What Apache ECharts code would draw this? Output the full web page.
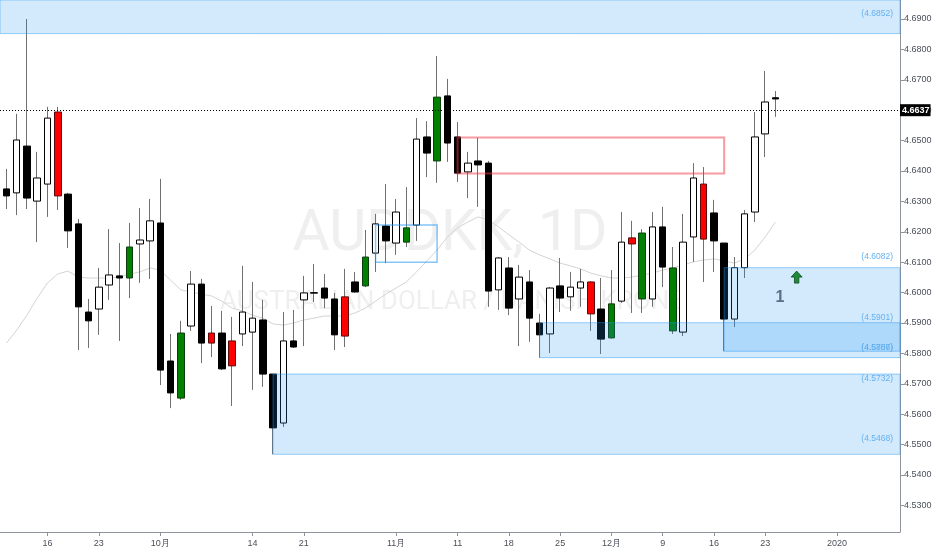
<!DOCTYPE html>
<html>
<head>
<meta charset="utf-8">
<script src="https://cdn.jsdelivr.net/npm/echarts@6/dist/echarts.min.js"></script>
<style>html,body{margin:0;padding:0;background:#fff}#c{width:932px;height:550px}</style>
</head>
<body>
<div id="c"></div>
<script>
// ---------- data ----------
const dates = [
 '2019-09-10','2019-09-11','2019-09-12','2019-09-13','2019-09-16','2019-09-17','2019-09-18','2019-09-19','2019-09-20',
 '2019-09-23','2019-09-24','2019-09-25','2019-09-26','2019-09-27','2019-09-30',
 '2019-10-01','2019-10-02','2019-10-03','2019-10-04','2019-10-07','2019-10-08','2019-10-09','2019-10-10','2019-10-11',
 '2019-10-14','2019-10-15','2019-10-16','2019-10-17','2019-10-18','2019-10-21','2019-10-22','2019-10-23','2019-10-24','2019-10-25',
 '2019-10-28','2019-10-29','2019-10-30','2019-10-31',
 '2019-11-01','2019-11-04','2019-11-05','2019-11-06','2019-11-07','2019-11-08','2019-11-11','2019-11-12','2019-11-13','2019-11-14','2019-11-15',
 '2019-11-18','2019-11-19','2019-11-20','2019-11-21','2019-11-22','2019-11-25','2019-11-26','2019-11-27','2019-11-28','2019-11-29',
 '2019-12-02','2019-12-03','2019-12-04','2019-12-05','2019-12-06','2019-12-09','2019-12-10','2019-12-11','2019-12-12','2019-12-13',
 '2019-12-16','2019-12-17','2019-12-18','2019-12-19','2019-12-20','2019-12-23','2019-12-24'
];
const opens = [4.6341,4.6328,4.6482,4.6301,4.6357,4.6594,4.6324,4.6226,4.5936,4.5946,4.6025,4.6055,4.6048,4.6160,4.6170,
 4.6229,4.5775,4.5653,4.5890,4.6028,4.5834,4.5867,4.5759,4.5864,4.5870,4.5910,4.5732,4.5571,4.5841,4.5976,4.5998,4.6015,4.5979,4.5857,4.6035,4.6022,4.6130,4.6219,
 4.6163,4.6166,4.6222,4.6512,4.6433,4.6647,4.6512,4.6397,4.6433,4.6426,4.6009,4.6081,4.5979,4.6035,4.5900,4.5864,4.6022,4.5986,4.6015,4.6035,4.5946,
 4.5851,4.5972,4.6160,4.6196,4.5979,4.6216,4.6081,4.5870,4.6183,4.6357,4.6262,4.6163,4.5913,4.6082,4.6265,4.6522,4.6641];
const closes = [4.6318,4.6502,4.6311,4.6377,4.6574,4.6318,4.6203,4.5953,4.5907,4.6018,4.6058,4.6048,4.6150,4.6173,4.6236,
 4.5745,4.5670,4.5867,4.6028,4.5834,4.5867,4.5749,4.5841,4.5936,4.5916,4.5732,4.5555,4.5841,4.5821,4.5999,4.6000,4.5982,4.5861,4.5986,4.6002,4.6117,4.6226,4.6170,
 4.6265,4.6213,4.6505,4.6459,4.6643,4.6492,4.6393,4.6426,4.6420,4.6005,4.6114,4.5949,4.6051,4.5916,4.5861,4.6015,4.5982,4.6018,4.6035,4.5930,4.5847,
 4.5963,4.6166,4.6180,4.5979,4.6216,4.6084,4.5874,4.6166,4.6377,4.6176,4.6170,4.5913,4.6082,4.6259,4.6512,4.6627,4.6637];
const lows = [4.6275,4.6255,4.6275,4.6166,4.6249,4.6272,4.6147,4.5811,4.5818,4.5861,4.5976,4.5841,4.5982,4.6032,4.6045,
 4.5696,4.5620,4.5647,4.5874,4.5768,4.5788,4.5745,4.5627,4.5824,4.5680,4.5690,4.5468,4.5558,4.5818,4.5824,4.5969,4.5949,4.5811,4.5821,4.6000,4.6018,4.6068,4.6097,
 4.6124,4.6150,4.6170,4.6380,4.6361,4.6430,4.6364,4.6311,4.6282,4.5953,4.5943,4.5926,4.5824,4.5838,4.5786,4.5801,4.5936,4.5940,4.5953,4.5874,4.5798,
 4.5849,4.5966,4.5933,4.5933,4.5953,4.6018,4.5864,4.5857,4.6101,4.6035,4.6068,4.5807,4.5887,4.6048,4.6232,4.6446,4.6578];
const highs = [4.6407,4.6588,4.6900,4.6463,4.6611,4.6611,4.6328,4.6242,4.5979,4.6081,4.6209,4.6163,4.6229,4.6278,4.6308,
 4.6374,4.5864,4.5907,4.6071,4.6045,4.5956,4.5940,4.5920,4.6088,4.6035,4.5976,4.5732,4.5936,4.5943,4.6055,4.6094,4.6061,4.5999,4.6078,4.6068,4.6206,4.6259,4.6357,
 4.6308,4.6347,4.6574,4.6564,4.6778,4.6703,4.6561,4.6463,4.6509,4.6433,4.6117,4.6117,4.6091,4.6074,4.5930,4.6018,4.6114,4.6068,4.6078,4.6038,4.6048,
 4.6074,4.6265,4.6236,4.6209,4.6265,4.6282,4.6150,4.6259,4.6426,4.6413,4.6305,4.6163,4.6117,4.6272,4.6594,4.6729,4.6663];
// highlighted bars (coloured red / green in the reference)
const redBars = ['2019-09-17','2019-10-08','2019-10-10','2019-10-25','2019-11-28','2019-12-04','2019-12-13'];
const greenBars = ['2019-09-26','2019-10-03','2019-10-29','2019-11-04','2019-11-07','2019-12-02','2019-12-05','2019-12-10'];
// moving average (thin grey line), one value per bar
const maValues = [4.5834,4.5877,4.5926,4.5982,4.6032,4.6061,4.6071,4.6051,4.6048,4.6048,4.6048,4.6051,4.6061,4.6068,4.6081,
 4.6074,4.6041,4.6009,4.6002,4.5995,4.5989,4.5972,4.5949,4.5940,4.5926,4.5916,4.5897,4.5893,4.5900,4.5910,4.5916,4.5923,4.5923,4.5923,4.5933,4.5949,4.5972,4.5995,
 4.6015,4.6035,4.6068,4.6104,4.6140,4.6183,4.6213,4.6232,4.6249,4.6239,4.6216,4.6190,4.6166,4.6140,4.6124,4.6111,4.6097,4.6088,4.6078,4.6064,4.6055,
 4.6048,4.6048,4.6051,4.6058,4.6064,4.6074,4.6081,4.6091,4.6101,4.6107,4.6111,4.6104,4.6097,4.6111,4.6140,4.6183,4.6232];
// x-axis tick labels
const xTickDates = ['2019-09-16','2019-09-23','2019-10-01','2019-10-14','2019-10-21','2019-11-01','2019-11-11','2019-11-18','2019-11-25','2019-12-02','2019-12-09','2019-12-16','2019-12-23','2020-01-01'];
const xTickLabels = ['16','23','10月','14','21','11月','11','18','25','12月','9','16','23','2020'];
// y-axis tick values
const yTicks = [4.53,4.54,4.55,4.56,4.57,4.58,4.59,4.60,4.61,4.62,4.63,4.64,4.65,4.66,4.67,4.68,4.69];
// drawn zones: [start date, bottom price, top price]
const zoneTop = 4.6852;
const zoneC = ['2019-10-16', 4.5468, 4.5732];
const zoneA = ['2019-11-21', 4.5786, 4.5901];
const zoneB = ['2019-12-17', 4.5807, 4.6082];
const redBox = ['2019-11-11', '2019-12-17', 4.6392, 4.6510];
const blueBox = ['2019-10-30', '2019-11-07', 4.6100, 4.6222];
const zoneLabels = [4.6852, 4.6082, 4.5901, 4.5807, 4.5786, 4.5732, 4.5468];

// ---------- helpers ----------
function tradingIndex(d) {
  const t = new Date(dates[0] + 'T00:00:00Z');
  const end = new Date(d + 'T00:00:00Z');
  let i = 0;
  while (t < end) {
    t.setUTCDate(t.getUTCDate() + 1);
    const wd = t.getUTCDay();
    if (wd !== 0 && wd !== 6) i++;
  }
  return i;
}
const xTickIdx = xTickDates.map(tradingIndex);
const xLabelMap = {};
xTickIdx.forEach((v, k) => { xLabelMap[v] = xTickLabels[k]; });

const X_MIN = -0.633, X_MAX = 87.15;
const Y_MIN = 4.52125, Y_MAX = 4.69625;
const FONT = "'Liberation Sans',Arial,sans-serif";

const wickData = dates.map((d, i) => [i, opens[i], closes[i], lows[i], highs[i]]);
const bodyData = dates.map((d, i) => {
  const o = opens[i], c = closes[i];
  const item = { value: [i, o, c, Math.min(o, c), Math.max(o, c)] };
  if (redBars.includes(d)) item.itemStyle = { color: '#ff0000', color0: '#ff0000', borderColor: '#5a0a0a', borderColor0: '#5a0a0a' };
  if (greenBars.includes(d)) item.itemStyle = { color: '#008000', color0: '#008000', borderColor: '#0d3d0d', borderColor0: '#0d3d0d' };
  return item;
});
const maData = maValues.map((v, i) => [i, v]);

const zoneStyle = { color: 'rgba(33,150,243,0.2)', borderColor: 'rgba(33,150,243,0.45)', borderWidth: 1 };
const areas = [
  [{ xAxis: X_MIN, yAxis: zoneTop, itemStyle: zoneStyle }, { xAxis: X_MAX, yAxis: Y_MAX }],
  [{ xAxis: tradingIndex(zoneC[0]), yAxis: zoneC[1], itemStyle: zoneStyle }, { xAxis: X_MAX, yAxis: zoneC[2] }],
  [{ xAxis: tradingIndex(zoneA[0]), yAxis: zoneA[1], itemStyle: zoneStyle }, { xAxis: X_MAX, yAxis: zoneA[2] }],
  [{ xAxis: tradingIndex(zoneB[0]), yAxis: zoneB[1], itemStyle: zoneStyle }, { xAxis: X_MAX, yAxis: zoneB[2] }],
  [{ xAxis: tradingIndex(redBox[0]), yAxis: redBox[2], itemStyle: { color: 'rgba(0,0,0,0)', borderColor: 'rgba(242,54,69,0.5)', borderWidth: 2 } },
   { xAxis: tradingIndex(redBox[1]), yAxis: redBox[3] }],
  [{ xAxis: tradingIndex(blueBox[0]), yAxis: blueBox[2], itemStyle: { color: 'rgba(0,0,0,0)', borderColor: 'rgba(33,150,243,0.55)', borderWidth: 1.5 } },
   { xAxis: tradingIndex(blueBox[1]), yAxis: blueBox[3] }]
];
const lastClose = closes[closes.length - 1];
const lines = zoneLabels.map(v => ({
  yAxis: v,
  lineStyle: { color: 'rgba(0,0,0,0)', width: 0 },
  label: { show: true, position: 'insideEndTop', distance: [7, 1], formatter: '(' + v.toFixed(4) + ')', color: '#64b0f0', fontSize: 8.5, fontFamily: FONT }
}));
lines.push({
  yAxis: lastClose,
  lineStyle: { color: '#000', width: 1, type: [1, 2] },
  label: { show: true, position: 'end', distance: 0, formatter: lastClose.toFixed(4), color: '#fff', backgroundColor: '#000',
           padding: [2, 1, 1, 2], fontSize: 9, fontWeight: 'bold', fontFamily: FONT }
});

const chart = echarts.init(document.getElementById('c'));
chart.setOption({
  animation: false,
  backgroundColor: '#fff',
  grid: { left: 0, right: 32, top: 0, bottom: 18, containLabel: false, outerBoundsMode: 'none' },
  graphic: [
    { type: 'text', x: 450, y: 236, z: -10, silent: true,
      style: { text: 'AUDDKK, 1D', font: "57px Roboto, 'Open Sans', sans-serif", fill: '#efefef', textAlign: 'center', textVerticalAlign: 'middle' } },
    { type: 'text', x: 452, y: 302, z: -10, silent: true,
      style: { text: 'AUSTRALIAN DOLLAR / DANISH KRONE', font: "26px Roboto, 'Open Sans', sans-serif", fill: '#efefef', textAlign: 'center', textVerticalAlign: 'middle' } }
  ],
  xAxis: {
    type: 'value', min: X_MIN, max: X_MAX,
    axisLine: { show: true, onZero: false, lineStyle: { color: '#8f939c' } },
    axisTick: { show: true, customValues: xTickIdx, length: 4, lineStyle: { color: '#8f939c' } },
    axisLabel: { show: true, customValues: xTickIdx, formatter: v => xLabelMap[v] || '', fontSize: 9, color: '#4a4f5a', margin: 7, fontFamily: FONT },
    splitLine: { show: false }
  },
  yAxis: {
    type: 'value', position: 'right', min: Y_MIN, max: Y_MAX,
    axisLine: { show: true, onZero: false, lineStyle: { color: '#8f939c' } },
    axisTick: { show: true, customValues: yTicks, length: 4, lineStyle: { color: '#8f939c' } },
    axisLabel: { show: true, customValues: yTicks, formatter: v => v.toFixed(4), fontSize: 9, color: '#4a4f5a', margin: 4, fontFamily: FONT },
    splitLine: { show: false }
  },
  series: [
    { name: 'MA', type: 'line', data: maData, showSymbol: false, silent: true, z: 1,
      lineStyle: { color: '#d4d4d4', width: 1 } },
    { name: 'wick', type: 'candlestick', data: wickData, barWidth: 1, silent: true, z: 2,
      encode: { x: 0, y: [1, 2, 3, 4] },
      itemStyle: { color: '#707070', color0: '#707070', borderColor: '#707070', borderColor0: '#707070', borderWidth: 1 } },
    { name: 'body', type: 'candlestick', data: bodyData, barWidth: 7, silent: true, z: 3,
      encode: { x: 0, y: [1, 2, 3, 4] },
      itemStyle: { color: '#ffffff', color0: '#000000', borderColor: '#000000', borderColor0: '#000000', borderWidth: 1 } },
    { name: 'drawings', type: 'line', data: [], silent: true, z: 10,
      markArea: { silent: true, z: 10, label: { show: false }, data: areas },
      markLine: { silent: true, z: 12, symbol: ['none', 'none'], data: lines },
      markPoint: { silent: true, z: 12, data: [
        { coord: [77.07, 4.6051], symbol: 'path://M5,0 L10,5.5 L7,5.5 L7,11 L3,11 L3,5.5 L0,5.5 Z', symbolSize: [11, 12],
          itemStyle: { color: '#1f8a3a', borderColor: '#0d4a1c', borderWidth: 0.8 }, label: { show: false } },
        { coord: [75.44, 4.5982], symbol: 'rect', symbolSize: 1, itemStyle: { color: 'rgba(0,0,0,0)' },
          label: { show: true, position: 'inside', formatter: '1', color: '#5a6f86', fontSize: 16, fontWeight: 'bold', fontFamily: "'Liberation Sans',sans-serif" } }
      ] }
    }
  ]
});
</script>
</body>
</html>
